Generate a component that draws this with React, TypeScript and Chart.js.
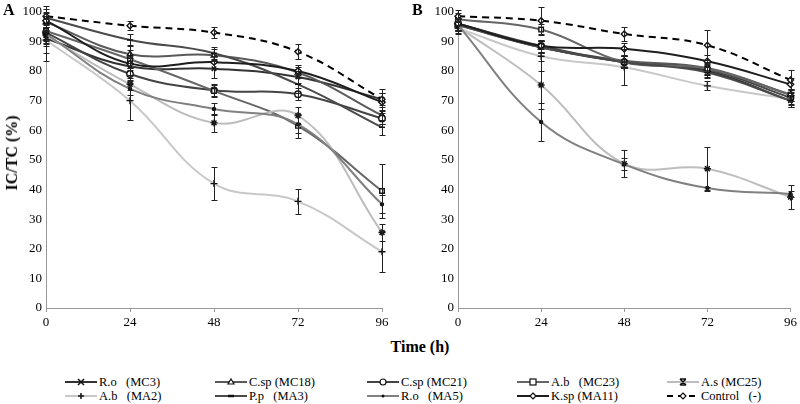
import React, { useEffect, useRef } from "react";
import { Chart, registerables } from "chart.js";

Chart.register(...registerables);

const hours = [0, 24, 48, 72, 96];
const yTicks = [0, 10, 20, 30, 40, 50, 60, 70, 80, 90, 100];

const seriesNames = [
  "R.o   (MC3)",
  "C.sp (MC18)",
  "C.sp (MC21)",
  "A.b   (MC23)",
  "A.s (MC25)",
  "A.b   (MA2)",
  "P.p   (MA3)",
  "R.o   (MA5)",
  "K.sp (MA11)",
  "Control   (-)",
];

// Panel A values
const aRoMC3 = [91, 81.5, 80.8, 78, 70.5];
const aCspMC18 = [96.5, 85.7, 85.3, 79.5, 65];
const aCspMC21 = [93, 79, 73.5, 72.2, 64];
const aAbMC23 = [93.5, 84, 73.3, 61.5, 39.5];
const aAsMC25 = [92, 75.5, 62.5, 65, 25.5];
const aAbMA2 = [90.5, 70, 42, 36, 19];
const aPpMA3 = [98, 90.5, 86, 75.5, 61];
const aRoMA5 = [92.5, 74, 67.2, 62, 35];
const aKspMA11 = [97, 82.5, 83, 80, 69.5];
const aControl = [98.5, 95.3, 93, 86.5, 70.5];

// Panel A errors
const aRoMC3Err = [5, 3, 3, 2, 2];
const aCspMC18Err = [3, 3, 2, 2, 3];
const aCspMC21Err = [3, 2, 2, 2, 2];
const aAbMC23Err = [5, 3, 2, 4, 9];
const aAsMC25Err = [3, 2, 3, 3, 3];
const aAbMA2Err = [7, 6.5, 5.5, 4.2, 7];
const aPpMA3Err = [3, 2, 2, 3, 2.5];
const aRoMA5Err = [3, 2, 2, 3, 3];
const aKspMA11Err = [3, 2, 2, 2, 3];
const aControlErr = [3.5, 1.5, 1.8, 2.5, 3.5];

// Panel B values
const bRoMC3 = [96, 88, 83, 80, 70];
const bCspMC18 = [95.5, 88, 83.5, 81, 72];
const bCspMC21 = [96, 88.5, 83, 80.5, 71];
const bAbMC23 = [97.5, 94, 83, 80.8, 72];
const bAsMC25 = [95, 75.3, 48.7, 47, 37.5];
const bAbMA2 = [94.5, 85, 81.3, 75, 70.5];
const bPpMA3 = [95.5, 88, 83, 79.5, 70];
const bRoMA5 = [95.5, 62.8, 48.5, 40.5, 38.5];
const bKspMA11 = [96, 88.5, 87.5, 83.3, 75.5];
const bControl = [98.5, 97, 92.5, 88.7, 77];

// Panel B errors
const bRoMC3Err = [2, 2, 2, 2, 2];
const bCspMC18Err = [2, 2, 2, 2, 2];
const bCspMC21Err = [2, 2, 2, 2, 2];
const bAbMC23Err = [2, 2, 2, 2, 2];
const bAsMC25Err = [2, 8, 4.5, 7.5, 4];
const bAbMA2Err = [2, 5, 6, 1.5, 2];
const bPpMA3Err = [2, 2, 2, 2, 2];
const bRoMA5Err = [2, 6.5, 2, 0.5, 1];
const bKspMA11Err = [2, 2, 2, 2, 2];
const bControlErr = [2, 4.5, 2.5, 5, 3.5];

const colors = ["#333333", "#5a5a5a", "#444444", "#666666", "#bdbdbd", "#c8c8c8", "#4a4a4a", "#808080", "#1e1e1e", "#000000"];
const pointStyles = ["crossRot", "triangle", "circle", "rect", "star", "cross", "line", "circle", "rectRot", "rectRot"];
const pointRadii = [3.2, 3.2, 3.2, 3.2, 3.5, 3.5, 3, 1.5, 3.2, 3];

const panelAValues = [aRoMC3, aCspMC18, aCspMC21, aAbMC23, aAsMC25, aAbMA2, aPpMA3, aRoMA5, aKspMA11, aControl];
const panelAErrors = [aRoMC3Err, aCspMC18Err, aCspMC21Err, aAbMC23Err, aAsMC25Err, aAbMA2Err, aPpMA3Err, aRoMA5Err, aKspMA11Err, aControlErr];
const panelBValues = [bRoMC3, bCspMC18, bCspMC21, bAbMC23, bAsMC25, bAbMA2, bPpMA3, bRoMA5, bKspMA11, bControl];
const panelBErrors = [bRoMC3Err, bCspMC18Err, bCspMC21Err, bAbMC23Err, bAsMC25Err, bAbMA2Err, bPpMA3Err, bRoMA5Err, bKspMA11Err, bControlErr];

const FONT = "'Liberation Serif', 'Times New Roman', serif";

const errorBars = {
  id: "errorBars",
  afterDatasetsDraw(chart: any) {
    const { ctx, scales } = chart;
    const xs = scales.x;
    const ys = scales.y;
    ctx.save();
    ctx.strokeStyle = "#222";
    ctx.lineWidth = 1;
    chart.data.datasets.forEach((ds: any) => {
      const errs = ds.errors;
      if (!errs) return;
      ds.data.forEach((p: any, i: number) => {
        const e = errs[i];
        const px = Math.round(xs.getPixelForValue(p.x)) + 0.5;
        const top = Math.round(ys.getPixelForValue(p.y + e)) + 0.5;
        const bot = Math.round(ys.getPixelForValue(p.y - e)) + 0.5;
        ctx.beginPath();
        ctx.moveTo(px, top);
        ctx.lineTo(px, bot);
        ctx.moveTo(px - 3, top);
        ctx.lineTo(px + 3, top);
        ctx.moveTo(px - 3, bot);
        ctx.lineTo(px + 3, bot);
        ctx.stroke();
      });
    });
    ctx.restore();
  },
};

function Panel(props: { values: number[][]; errors: number[][]; yWidth: number; padRight: number; width: number; height: number }) {
  const ref = useRef<HTMLCanvasElement | null>(null);
  useEffect(() => {
    if (!ref.current) return;
    const datasets = props.values.map((vals, k) => ({
      label: seriesNames[k],
      data: hours.map((h, i) => ({ x: h, y: vals[i] })),
      errors: props.errors[k],
      borderColor: colors[k],
      backgroundColor: "#ffffff",
      pointBorderColor: "#111",
      pointBackgroundColor: k === 7 ? "#111" : "#ffffff",
      pointStyle: pointStyles[k],
      pointRadius: pointRadii[k],
      pointBorderWidth: 1.4,
      borderWidth: 2,
      borderDash: k === 9 ? [7, 5] : [],
      tension: 0.4,
      clip: false as any,
      order: 10 - k,
    }));
    const chart = new Chart(ref.current, {
      type: "line",
      data: { datasets: datasets as any },
      plugins: [errorBars],
      options: {
        animation: false,
        responsive: false,
        maintainAspectRatio: false,
        layout: { padding: { top: 10, right: props.padRight, left: 0, bottom: 0 } },
        plugins: { legend: { display: false }, tooltip: { enabled: false } },
        scales: {
          x: {
            type: "linear",
            min: 0,
            max: 96,
            afterBuildTicks: (s: any) => {
              s.ticks = hours.map((v) => ({ value: v }));
            },
            ticks: { font: { family: FONT, size: 13 }, color: "#000", padding: 3, maxRotation: 0 },
            grid: { drawOnChartArea: false, drawTicks: true, tickLength: 4, color: "#999" },
            border: { color: "#999" },
            afterFit: (s: any) => {
              s.height = 22;
            },
          },
          y: {
            type: "linear",
            min: 0,
            max: 100,
            afterBuildTicks: (s: any) => {
              s.ticks = yTicks.map((v) => ({ value: v }));
            },
            ticks: { font: { family: FONT, size: 13 }, color: "#000", padding: 4 },
            grid: { drawOnChartArea: false, drawTicks: false },
            border: { color: "#999" },
            afterFit: (s: any) => {
              s.width = props.yWidth;
            },
          },
        },
      },
    });
    return () => chart.destroy();
  }, []);
  return <canvas ref={ref} width={props.width} height={props.height} style={{ display: "block" }} />;
}

function Marker(props: { k: number }) {
  const k = props.k;
  const c = colors[k];
  const st = pointStyles[k];
  const cx = 16;
  const cy = 5;
  const r = 3;
  let m: any = null;
  if (st === "crossRot") m = <path d={`M${cx - r} ${cy - r}L${cx + r} ${cy + r}M${cx - r} ${cy + r}L${cx + r} ${cy - r}`} stroke="#111" strokeWidth={1.5} />;
  else if (st === "triangle") m = <path d={`M${cx} ${cy - r}L${cx + r} ${cy + r - 1}L${cx - r} ${cy + r - 1}Z`} stroke="#111" fill="#fff" strokeWidth={1.2} />;
  else if (st === "circle" && k !== 7) m = <circle cx={cx} cy={cy} r={r} stroke="#111" fill="#fff" strokeWidth={1.2} />;
  else if (st === "circle") m = <circle cx={cx} cy={cy} r={1.5} fill="#111" />;
  else if (st === "rect") m = <rect x={cx - r} y={cy - r} width={2 * r} height={2 * r} stroke="#111" fill="#fff" strokeWidth={1.2} />;
  else if (st === "star") m = <path d={`M${cx - r} ${cy - r}L${cx + r} ${cy + r}M${cx - r} ${cy + r}L${cx + r} ${cy - r}M${cx - r} ${cy - r}L${cx + r} ${cy - r}M${cx - r} ${cy + r}L${cx + r} ${cy + r}`} stroke="#111" strokeWidth={1.5} />;
  else if (st === "cross") m = <path d={`M${cx - r} ${cy}L${cx + r} ${cy}M${cx} ${cy - r}L${cx} ${cy + r}`} stroke="#111" strokeWidth={1.5} />;
  else if (st === "line") m = <path d={`M${cx - r} ${cy}L${cx + r} ${cy}`} stroke="#111" strokeWidth={2.5} />;
  else if (st === "rectRot") m = <path d={`M${cx} ${cy - r}L${cx + r} ${cy}L${cx} ${cy + r}L${cx - r} ${cy}Z`} stroke="#111" fill="#fff" strokeWidth={1.2} />;
  return (
    <svg width={32} height={10} style={{ display: "block" }}>
      <line x1={0} y1={cy} x2={32} y2={cy} stroke={c} strokeWidth={2} strokeDasharray={k === 9 ? "6 5" : undefined} />
      {m}
    </svg>
  );
}

const legendCols = [65, 215, 367, 517, 667];

export default function App() {
  return (
    <div style={{ position: "absolute", left: 0, top: 0, width: 800, height: 404, background: "#fff", fontFamily: FONT, overflow: "hidden" }}>
      <div style={{ position: "absolute", left: 0, top: 0 }}>
        <Panel values={panelAValues} errors={panelAErrors} yWidth={46} padRight={18} width={400} height={330} />
      </div>
      <div style={{ position: "absolute", left: 400, top: 0 }}>
        <Panel values={panelBValues} errors={panelBErrors} yWidth={58} padRight={7} width={400} height={330} />
      </div>
      <div style={{ position: "absolute", left: 3, top: 1, fontWeight: "bold", fontSize: 16 }}>A</div>
      <div style={{ position: "absolute", left: 412, top: 1, fontWeight: "bold", fontSize: 16 }}>B</div>
      <div
        style={{
          position: "absolute",
          left: 12,
          top: 153,
          transform: "translate(-50%, -50%) rotate(-90deg)",
          fontWeight: "bold",
          fontSize: 16,
          whiteSpace: "nowrap",
        }}
      >
        IC/TC (%)
      </div>
      <div style={{ position: "absolute", left: 420, top: 347, transform: "translate(-50%, -50%)", fontWeight: "bold", fontSize: 16, whiteSpace: "nowrap" }}>
        Time (h)
      </div>
      {seriesNames.map((name, k) => {
        const col = k % 5;
        const row = Math.floor(k / 5);
        return (
          <div
            key={k}
            style={{ position: "absolute", left: legendCols[col], top: 375 + row * 14, height: 14, display: "flex", alignItems: "center", fontSize: 12.5, whiteSpace: "pre" }}
          >
            <Marker k={k} />
            <span style={{ marginLeft: 2 }}>{name}</span>
          </div>
        );
      })}
    </div>
  );
}
